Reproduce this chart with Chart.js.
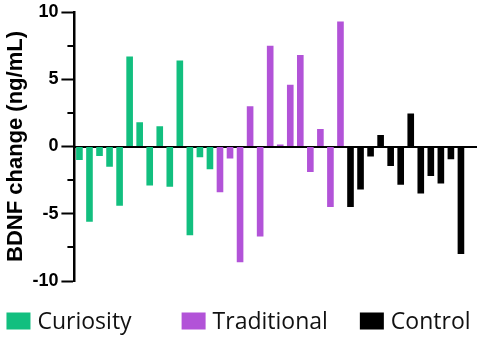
<!DOCTYPE html>
<html>
<head>
<meta charset="utf-8">
<script src="https://cdn.jsdelivr.net/npm/chart.js@4/dist/chart.umd.min.js"></script>
<style>
	html, body { margin: 0; padding: 0; background: #fff; }
	#wrap { width: 477px; height: 339px; position: relative; }
</style>
</head>
<body>
<div id="wrap"><canvas id="chart-bdnf"></canvas></div>
<script>
// Data, one bar per participant
const curiosity = [-1.0, -5.6, -0.7, -1.5, -4.4, 6.7, 1.8, -2.9, 1.5, -3.0, 6.4, -6.6, -0.8, -1.7];
const traditional = [-3.4, -0.9, -8.6, 3.0, -6.7, 7.5, 0.15, 4.6, 6.8, -1.9, 1.3, -4.5, 9.3];
const control = [-4.5, -3.2, -0.75, 0.85, -1.45, -2.85, 2.45, -3.5, -2.2, -2.75, -0.95, -8.0];
const groupNames = ["Curiosity", "Traditional", "Control"];
const groupColors = ["#12bf7f", "#b253d8", "#000000"];
const yTicks = [-10, -5, 0, 5, 10];
const yMinorStep = 2.5;

// one trailing empty slot so the zero line runs past the last bar
const total = curiosity.length + traditional.length + control.length + 1;
const labels = Array.from({ length: total }, (_, i) => String(i + 1));

const padded = (values, start) => {
	const out = new Array(total).fill(null);
	values.forEach((v, i) => (out[start + i] = v));
	return out;
};

const groups = [curiosity, traditional, control];
let offset = 0;
const datasets = groups.map((values, g) => {
	const ds = {
		label: groupNames[g],
		data: padded(values, offset),
		backgroundColor: groupColors[g],
		borderWidth: 0,
		barPercentage: 0.66,
		categoryPercentage: 1,
		grouped: false,
	};
	offset += values.length;
	return ds;
});

// short minor tick marks at the 2.5 steps between labelled ticks
const minorTicks = {
	id: "minorTicks",
	afterDraw(chart) {
		const { ctx } = chart;
		const y = chart.scales.y;
		ctx.save();
		ctx.strokeStyle = "#000";
		ctx.lineWidth = 2;
		for (let v = y.min; v <= y.max; v += yMinorStep) {
			if (yTicks.includes(v)) continue;
			const py = Math.round(y.getPixelForValue(v));
			ctx.beginPath();
			ctx.moveTo(y.right - 7, py);
			ctx.lineTo(y.right, py);
			ctx.stroke();
		}
		ctx.restore();
	},
};

// legend row under the plot; the built-in one wraps at this width
const LEGEND = { box: [24, 17], textGap: 7, itemGaps: [50, 32], font: "23px 'Open Sans', sans-serif", centerY: 322 };
const legendRow = {
	id: "legendRow",
	afterDraw(chart) {
		const { ctx, width } = chart;
		ctx.save();
		ctx.font = LEGEND.font;
		ctx.textBaseline = "middle";
		const items = chart.data.datasets.map((ds) => ({
			text: ds.label,
			color: ds.backgroundColor,
			w: LEGEND.box[0] + LEGEND.textGap + ctx.measureText(ds.label).width,
		}));
		const gapSum = LEGEND.itemGaps.reduce((s, g) => s + g, 0);
		const rowWidth = items.reduce((s, it) => s + it.w, 0) + gapSum;
		let x = (width - rowWidth) / 2;
		items.forEach((it, i) => {
			ctx.fillStyle = it.color;
			ctx.fillRect(x, LEGEND.centerY - LEGEND.box[1] / 2 - 1, LEGEND.box[0], LEGEND.box[1]);
			ctx.fillStyle = "#111";
			ctx.fillText(it.text, x + LEGEND.box[0] + LEGEND.textGap, LEGEND.centerY);
			x += it.w + (LEGEND.itemGaps[i] || 0);
		});
		ctx.restore();
	},
};

new Chart(document.getElementById("chart-bdnf"), {
	type: "bar",
	data: { labels, datasets },
	plugins: [minorTicks, legendRow],
	options: {
		responsive: true,
		maintainAspectRatio: false,
		animation: false,
		layout: { padding: { top: -2, right: 1, left: 3, bottom: 58 } },
		scales: {
			x: {
				position: { y: 0 },
				z: 1,
				grid: { display: false },
				border: { display: true, color: "#000", width: 2 },
				ticks: { display: false },
			},
			y: {
				min: -10,
				max: 10,
				afterBuildTicks: (scale) => {
					scale.ticks = yTicks.map((v) => ({ value: v }));
				},
				grid: {
					drawOnChartArea: false,
					drawTicks: true,
					tickLength: 13,
					tickWidth: 2,
					tickColor: "#000",
				},
				border: { display: true, color: "#000", width: 2.5 },
				ticks: {
					color: "#000",
					padding: 3,
					font: { family: "'Liberation Sans', Arial, sans-serif", size: 18, weight: "bold", lineHeight: 1 },
				},
				title: {
					display: true,
					text: "BDNF change (ng/mL)",
					color: "#000",
					padding: { top: 0, bottom: 0 },
					font: { family: "'Liberation Sans', Arial, sans-serif", size: 22, weight: "bold" },
				},
			},
		},
		plugins: {
			legend: { display: false },
			tooltip: { enabled: false },
		},
	},
});
</script>
</body>
</html>
